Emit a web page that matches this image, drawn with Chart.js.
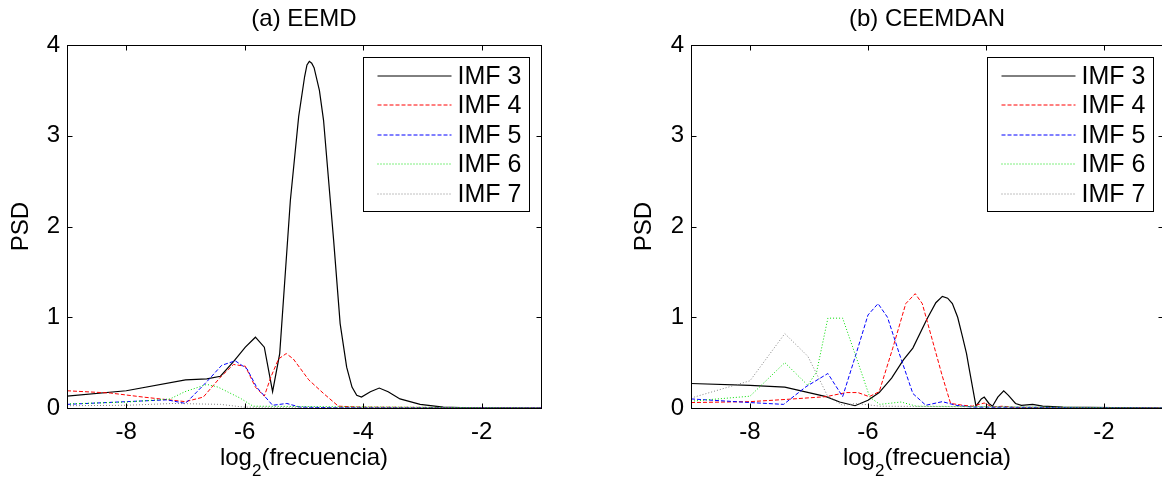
<!DOCTYPE html>
<html>
<head>
<meta charset="utf-8">
<script src="https://cdn.jsdelivr.net/npm/chart.js@4.4.1/dist/chart.umd.min.js"></script>
<style>
  html, body { margin: 0; padding: 0; background: #fff; overflow: hidden; }
  body { width: 1162px; height: 480px; position: relative; }
  .panel { position: absolute; top: 0; width: 600px; height: 480px; }
</style>
</head>
<body>
<div class="panel" style="left:0"><canvas id="eemdChart" width="600" height="480"></canvas></div>
<div class="panel" style="left:600px"><canvas id="ceemdanChart" width="600" height="480"></canvas></div>
<script>
// axis ticks
const xTicks = [-8, -6, -4, -2];
const yTicks = [0, 1, 2, 3, 4];
const seriesNames = ['IMF 3', 'IMF 4', 'IMF 5', 'IMF 6', 'IMF 7'];

// (a) EEMD
const eemdImf3X = [-9, -8, -7, -6.64, -6.41, -6.19, -5.99, -5.82, -5.67, -5.53, -5.41, -5.23, -5.09, -4.99, -4.95, -4.91, -4.87, -4.83, -4.74, -4.67, -4.5, -4.39, -4.28, -4.19, -4.11, -4.03, -3.88, -3.73, -3.58, -3.38, -3.04, -2.65, -2.2, -1];
const eemdImf3Y = [0.13, 0.19, 0.31, 0.32, 0.35, 0.51, 0.67, 0.78, 0.67, 0.18, 0.60, 2.29, 3.21, 3.65, 3.78, 3.82, 3.80, 3.75, 3.50, 3.17, 1.85, 0.93, 0.45, 0.23, 0.14, 0.12, 0.18, 0.22, 0.18, 0.10, 0.04, 0.01, 0.003, 0];
const eemdImf4X = [-9, -8.27, -7.71, -7.0, -6.70, -6.41, -6.19, -5.99, -5.82, -5.67, -5.56, -5.43, -5.30, -5.18, -4.92, -4.67, -4.42, -4.05, -1];
const eemdImf4Y = [0.19, 0.165, 0.12, 0.07, 0.12, 0.34, 0.48, 0.46, 0.23, 0.13, 0.34, 0.54, 0.60, 0.54, 0.31, 0.16, 0.02, 0.01, 0];
const eemdImf5X = [-9, -8, -7.31, -7.0, -6.64, -6.39, -6.16, -5.96, -5.80, -5.53, -5.29, -5.07, -4.5, -1];
const eemdImf5Y = [0.04, 0.07, 0.09, 0.05, 0.29, 0.47, 0.52, 0.43, 0.23, 0.03, 0.05, 0.01, 0.003, 0];
const eemdImf6X = [-9, -8, -7.26, -7.01, -6.64, -6.45, -6.08, -5.86, -1];
const eemdImf6Y = [0.045, 0.065, 0.1, 0.18, 0.26, 0.23, 0.11, 0.02, 0];
const eemdImf7X = [-9, -8, -7.2, -6.41, -6.02, -1];
const eemdImf7Y = [0.025, 0.03, 0.05, 0.04, 0.01, 0];

// (b) CEEMDAN
const ceemdanImf3X = [-9, -8, -7.41, -6.71, -6.48, -6.22, -6.0, -5.81, -5.6, -5.4, -5.24, -5.0, -4.85, -4.74, -4.65, -4.57, -4.48, -4.40, -4.33, -4.29, -4.22, -4.17, -4.08, -4.03, -3.95, -3.89, -3.80, -3.70, -3.62, -3.50, -3.40, -3.21, -3.04, -2.7, -1];
const ceemdanImf3Y = [0.27, 0.25, 0.23, 0.125, 0.066, 0.025, 0.085, 0.17, 0.33, 0.53, 0.66, 0.98, 1.16, 1.23, 1.21, 1.15, 1.0, 0.79, 0.6, 0.45, 0.2, 0.02, 0.10, 0.12, 0.05, 0.02, 0.12, 0.19, 0.14, 0.05, 0.03, 0.04, 0.02, 0.01, 0];
const ceemdanImf4X = [-9, -8, -7.38, -6.71, -6.37, -6.17, -5.98, -5.81, -5.58, -5.36, -5.20, -5.08, -4.91, -4.74, -4.60, -4.39, -4.23, -4.03, -3.89, -3.72, -3.5, -1];
const ceemdanImf4Y = [0.06, 0.07, 0.095, 0.125, 0.17, 0.17, 0.125, 0.18, 0.66, 1.15, 1.26, 1.15, 0.75, 0.35, 0.05, 0.03, 0.02, 0.055, 0.01, 0.02, 0.005, 0];
const ceemdanImf5X = [-9, -8, -7.43, -7.05, -6.68, -6.43, -6.20, -6.0, -5.83, -5.67, -5.47, -5.24, -5.02, -4.74, -4.51, -4.23, -1];
const ceemdanImf5Y = [0.1, 0.06, 0.04, 0.235, 0.38, 0.125, 0.60, 1.025, 1.15, 1.0, 0.60, 0.16, 0.03, 0.07, 0.03, 0.01, 0];
const ceemdanImf6X = [-9, -8, -7.41, -7.02, -6.87, -6.68, -6.43, -6.20, -5.97, -5.80, -5.44, -5.18, -1];
const ceemdanImf6Y = [0.075, 0.13, 0.50, 0.25, 0.40, 0.99, 0.99, 0.56, 0.12, 0.04, 0.066, 0.02, 0];
const ceemdanImf7X = [-9, -8, -7.41, -7.02, -6.82, -6.68, -6.43, -6.20, -5.80, -1];
const ceemdanImf7Y = [0.11, 0.30, 0.82, 0.57, 0.31, 0.125, 0.03, 0.05, 0.02, 0];

const lineColors = ['#000000', '#ff0000', '#0000ff', '#00dd00', '#808080'];
const lineDashes = [[], [4, 2], [4, 2], [1, 2], [1, 2]];
const fontFamily = '"Liberation Sans", Arial, sans-serif';
const fontSize = 24;

Chart.defaults.font.family = fontFamily;
Chart.defaults.color = '#000';

function pairs(xs, ys) {
    return xs.map((x, i) => ({ x: x, y: ys[i] }));
}

// MATLAB-like frame: box, inward ticks, title, x label with subscript, legend
const matlabFrame = {
    id: 'matlabFrame',
    afterDraw(chart, args, opts) {
        const { ctx, chartArea: a, scales } = chart;
        const left = Math.round(a.left) + 0.5;
        const right = Math.round(a.right) + 0.5;
        const top = Math.round(a.top) + 0.5;
        const bottom = Math.round(a.bottom) + 0.5;
        ctx.save();
        ctx.strokeStyle = '#000';
        ctx.lineWidth = 1;
        ctx.setLineDash([]);
        ctx.beginPath();
        xTicks.forEach(v => {
            const px = Math.round(scales.x.getPixelForValue(v)) + 0.5;
            ctx.moveTo(px, bottom); ctx.lineTo(px, bottom - 5);
            ctx.moveTo(px, top); ctx.lineTo(px, top + 5);
        });
        yTicks.forEach(v => {
            const py = Math.round(scales.y.getPixelForValue(v)) + 0.5;
            ctx.moveTo(left, py); ctx.lineTo(left + 5, py);
            ctx.moveTo(right, py); ctx.lineTo(right - 5, py);
        });
        ctx.stroke();
        ctx.strokeRect(left, top, right - left, bottom - top);

        // title
        const cx = (a.left + a.right) / 2;
        ctx.fillStyle = '#000';
        ctx.textAlign = 'center';
        ctx.textBaseline = 'alphabetic';
        const mainFont = fontSize + 'px ' + fontFamily;
        const subFont = '17px ' + fontFamily;
        ctx.font = mainFont;
        ctx.fillText(opts.title, cx, 26);

        // x label: log_2(frecuencia)
        const w1 = ctx.measureText('log').width;
        const w3 = ctx.measureText('(frecuencia)').width;
        ctx.font = subFont;
        const w2 = ctx.measureText('2').width;
        const sx = cx - (w1 + w2 + w3) / 2;
        ctx.textAlign = 'left';
        ctx.font = mainFont;
        ctx.fillText('log', sx, 465);
        ctx.font = subFont;
        ctx.fillText('2', sx + w1, 476);
        ctx.font = mainFont;
        ctx.fillText('(frecuencia)', sx + w1 + w2, 465);

        // legend
        const bw = 166, bh = 154;
        const bx = Math.round(a.right - opts.legendRight - bw) + 0.5;
        const by = Math.round(a.top + 12) + 0.5;
        ctx.fillStyle = '#fff';
        ctx.fillRect(bx, by, bw, bh);
        ctx.strokeStyle = '#000';
        ctx.strokeRect(bx, by, bw, bh);
        seriesNames.forEach((name, i) => {
            const ry = Math.round(by + 18 + i * 29.5);
            ctx.strokeStyle = lineColors[i];
            ctx.lineWidth = 1;
            ctx.setLineDash(lineDashes[i]);
            ctx.beginPath();
            ctx.moveTo(bx + 14, ry);
            ctx.lineTo(bx + 88, ry);
            ctx.stroke();
            ctx.setLineDash([]);
            ctx.fillStyle = '#000';
            ctx.font = '25px ' + fontFamily;
            ctx.textBaseline = 'middle';
            ctx.fillText(name, bx + 94, ry + 1);
        });
        ctx.restore();
    }
};

function makeChart(id, title, xsList, ysList, yAxisWidth, titlePad, padRight, legendRight) {
    const datasets = seriesNames.map((name, i) => ({
        label: name,
        data: pairs(xsList[i], ysList[i]),
        borderColor: lineColors[i],
        borderDash: lineDashes[i],
        borderWidth: i === 0 ? 1.2 : 1,
        pointRadius: 0,
        tension: 0,
        fill: false,
        order: seriesNames.length - 1 - i
    }));
    return new Chart(document.getElementById(id), {
        type: 'line',
        data: { datasets: datasets },
        options: {
            responsive: false,
            animation: false,
            layout: { padding: { top: 45, right: padRight, left: 0, bottom: 0 } },
            plugins: {
                legend: { display: false },
                tooltip: { enabled: false },
                matlabFrame: { title: title, legendRight: legendRight }
            },
            scales: {
                x: {
                    type: 'linear',
                    min: -9,
                    max: -1,
                    grid: { display: false, drawTicks: false },
                    border: { display: false },
                    ticks: { font: { size: fontSize }, padding: 9.6, maxRotation: 0, color: '#000' },
                    afterBuildTicks: s => { s.ticks = xTicks.map(v => ({ value: v })); },
                    afterFit: s => { s.height = 72; }
                },
                y: {
                    type: 'linear',
                    min: 0,
                    max: 4,
                    grid: { display: false, drawTicks: false },
                    border: { display: false },
                    ticks: { font: { size: fontSize }, padding: 7, color: '#000' },
                    afterBuildTicks: s => { s.ticks = yTicks.map(v => ({ value: v })); },
                    afterFit: s => { s.width = yAxisWidth; },
                    title: { display: true, text: 'PSD', font: { size: fontSize }, padding: { top: titlePad, bottom: 0 }, color: '#000' }
                }
            }
        },
        plugins: [matlabFrame]
    });
}

makeChart('eemdChart', '(a) EEMD',
    [eemdImf3X, eemdImf4X, eemdImf5X, eemdImf6X, eemdImf7X],
    [eemdImf3Y, eemdImf4Y, eemdImf5Y, eemdImf6Y, eemdImf7Y],
    67, 7, 59, 12);

makeChart('ceemdanChart', '(b) CEEMDAN',
    [ceemdanImf3X, ceemdanImf4X, ceemdanImf5X, ceemdanImf6X, ceemdanImf7X],
    [ceemdanImf3Y, ceemdanImf4Y, ceemdanImf5Y, ceemdanImf6Y, ceemdanImf7Y],
    91, 30, 37, 10);
</script>
</body>
</html>
